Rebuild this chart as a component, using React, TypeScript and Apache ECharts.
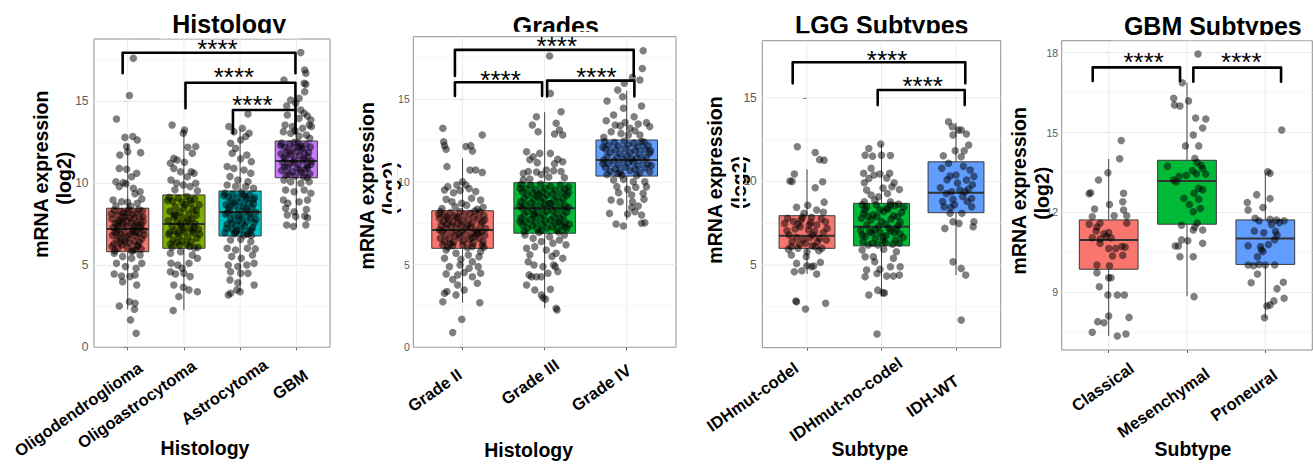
import React, { useEffect, useRef } from 'react';
import * as echarts from 'echarts';

const FONT = '"Liberation Sans", Arial, Helvetica, sans-serif';

// ---------------- categories ----------------
const histologyCategories = ['Oligodendroglioma', 'Oligoastrocytoma', 'Astrocytoma', 'GBM'];
const gradeCategories = ['Grade II', 'Grade III', 'Grade IV'];
const lggCategories = ['IDHmut-codel', 'IDHmut-no-codel', 'IDH-WT'];
const gbmCategories = ['Classical', 'Mesenchymal', 'Proneural'];

// ---------------- box statistics: [lower whisker, Q1, median, Q3, upper whisker] ----------------
const histologyBoxes = [
  [2.3, 5.83, 7.21, 8.48, 12.4],
  [2.27, 6.04, 7.52, 9.29, 13.3],
  [3.4, 6.79, 8.25, 9.53, 13.3],
  [7.35, 10.34, 11.36, 12.58, 15.1],
];
const gradeBoxes = [
  [2.7, 5.99, 7.1, 8.26, 11.43],
  [2.36, 6.9, 8.41, 9.96, 14.22],
  [7.7, 10.36, 11.33, 12.54, 15.52],
];
const lggBoxes = [
  [4.46, 6.0, 6.75, 7.95, 10.72],
  [3.11, 6.15, 7.29, 8.69, 12.23],
  [4.4, 8.13, 9.32, 11.17, 13.51],
];
const gbmBoxes = [
  [7.36, 9.87, 10.97, 11.72, 14.01],
  [8.86, 11.56, 13.18, 13.96, 16.87],
  [8.03, 10.05, 11.02, 11.72, 13.47],
];

// ---------------- jittered samples: [jitter offset (category units), log2 expression] ----------------
const oligodendrogliomaPoints = [
  [0.10,17.62],[0.03,15.35],[-0.20,13.92],[-0.05,12.80],[0.09,12.85],[0.17,12.64],[-0.02,12.24],[0.00,11.93],[-0.14,11.73],[0.23,11.87],
  [-0.15,10.91],[-0.02,10.85],[0.16,10.61],[0.07,10.40],[-0.21,10.10],[-0.08,10.04],[-0.03,9.98],[-0.15,9.80],[0.10,9.70],[0.22,9.49],[0.13,9.36],
  [-0.26,8.98],[-0.11,8.88],[0.00,8.84],[0.17,8.78],[-0.21,8.62],[0.05,8.60],[0.25,9.05],
  [-0.24,8.35],[-0.12,8.28],[0.02,8.40],[0.14,8.22],[0.26,8.31],[-0.18,8.05],[-0.05,7.98],[0.09,8.10],[0.21,7.95],[-0.28,7.82],
  [-0.14,7.75],[0.00,7.70],[0.12,7.85],[0.27,7.66],[-0.22,7.55],[-0.08,7.48],[0.06,7.58],[0.18,7.42],[-0.26,7.30],[-0.16,7.22],
  [-0.02,7.35],[0.10,7.18],[0.23,7.28],[-0.20,7.05],[-0.06,7.00],[0.08,7.08],[0.19,6.95],[0.28,7.12],[-0.27,6.82],[-0.12,6.88],
  [0.01,6.75],[0.15,6.80],[0.25,6.62],[-0.19,6.55],[-0.04,6.60],[0.11,6.48],[0.21,6.40],[-0.25,6.30],[-0.10,6.25],[0.04,6.35],
  [0.17,6.18],[-0.17,6.05],[-0.01,6.10],[0.13,5.95],[0.24,6.00],[-0.23,5.88],[0.07,5.86],[-0.09,7.90],[0.16,7.60],[-0.13,6.40],
  [-0.29,8.15],[-0.17,7.62],[0.03,7.92],[0.20,8.40],[-0.07,8.20],[0.11,7.40],[-0.23,6.98],[0.05,6.90],[0.29,6.85],[-0.14,6.70],
  [0.18,6.20],[-0.28,6.15],[0.09,5.90],[-0.05,6.45],[0.24,7.50],[-0.19,7.40],[0.14,7.02],[-0.10,7.62],[0.00,8.25],[0.27,7.95],
  [-0.24,5.73],[-0.09,5.53],[0.07,5.43],[0.22,5.63],[-0.20,5.12],[-0.04,4.92],[0.15,4.82],[0.25,5.12],[-0.24,4.47],[-0.11,4.35],
  [0.04,4.31],[0.13,4.41],[-0.09,4.00],[0.16,3.80],[-0.15,2.52],[0.03,2.78],[0.13,2.68],[0.12,2.32],[0.05,1.67],[0.15,0.85],
];
const oligoastrocytomaPoints = [
  [-0.21,13.56],[0.01,13.25],[-0.01,13.05],[0.07,12.20],[0.21,12.24],[0.15,11.83],[-0.18,11.52],[-0.12,11.42],[-0.24,11.22],[0.01,11.28],
  [-0.18,10.91],[-0.06,10.71],[0.13,10.71],[0.18,10.61],[0.06,10.40],[-0.23,10.20],[-0.13,10.00],[0.21,10.00],[0.11,9.80],[-0.01,9.90],[-0.16,9.60],[0.24,9.55],
  [-0.26,9.15],[-0.10,9.10],[0.05,9.20],[0.19,9.05],[-0.20,8.90],[-0.03,8.85],[0.12,8.78],[0.27,8.70],[-0.15,8.55],[0.00,8.50],
  [0.16,8.42],[-0.25,8.30],[-0.07,8.25],[0.09,8.15],[0.22,8.05],[-0.18,7.95],[-0.02,7.90],[0.14,7.82],[-0.28,7.72],[-0.12,7.65],
  [0.04,7.60],[0.20,7.55],[-0.21,7.40],[-0.05,7.35],[0.11,7.28],[0.26,7.20],[-0.16,7.10],[0.01,7.05],[0.17,6.98],[-0.27,6.88],
  [-0.09,6.80],[0.07,6.72],[0.23,6.65],[-0.19,6.55],[-0.03,6.50],[0.13,6.42],[-0.24,6.30],[-0.08,6.22],[0.10,6.15],[0.25,6.10],
  [-0.14,8.05],[0.18,7.30],[-0.11,6.95],
  [-0.29,8.95],[0.02,8.70],[0.22,8.35],[-0.17,8.10],[0.08,7.75],[-0.06,7.50],[0.15,7.10],[-0.25,7.00],[0.28,6.90],[-0.12,6.40],
  [0.05,6.28],[0.19,6.05],[-0.21,6.10],[0.11,9.00],[-0.02,7.20],
  [-0.24,5.73],[-0.06,5.83],[0.15,5.63],[0.24,5.43],[-0.23,5.12],[-0.11,5.02],[0.09,5.12],[-0.03,4.82],[-0.24,4.61],[-0.15,4.47],
  [0.00,4.51],[0.11,4.31],[-0.18,3.80],[-0.01,3.66],[0.09,3.50],[0.24,3.39],[-0.09,3.09],[-0.19,2.24],
];
const astrocytomaPoints = [
  [0.14,14.23],[-0.20,13.46],[-0.11,13.15],[0.04,13.35],[0.16,13.05],[0.10,12.85],[-0.17,12.44],[0.01,12.64],[-0.08,12.13],[-0.14,11.83],
  [0.12,11.73],[0.20,11.32],[0.01,11.50],[-0.23,11.02],[-0.11,10.91],[0.07,10.81],[0.19,10.62],[-0.18,10.41],[-0.04,10.20],[0.14,10.10],
  [-0.23,9.90],[-0.08,9.80],[0.10,9.80],[0.24,9.70],
  [-0.27,9.40],[-0.13,9.35],[0.02,9.45],[0.17,9.30],[-0.21,9.15],[-0.05,9.10],[0.11,9.05],[0.26,9.12],[-0.16,8.92],[0.00,8.85],
  [0.15,8.80],[-0.25,8.70],[-0.09,8.65],[0.06,8.58],[0.21,8.52],[-0.19,8.40],[-0.02,8.35],[0.13,8.30],[0.28,8.22],[-0.26,8.12],
  [-0.11,8.05],[0.04,8.00],[0.19,7.92],[-0.17,7.80],[-0.03,7.75],[0.12,7.68],[0.25,7.60],[-0.23,7.50],[-0.07,7.45],[0.08,7.38],
  [0.22,7.30],[-0.14,7.20],[0.01,7.15],[0.16,7.05],[-0.27,6.98],[-0.10,6.92],[0.07,6.85],[0.20,6.82],[-0.20,8.55],[0.09,9.20],
  [-0.06,7.10],[0.24,8.75],
  [-0.29,9.25],[0.05,9.30],[0.23,9.00],[-0.12,8.80],[0.10,8.45],[-0.22,8.20],[0.17,8.10],[-0.02,7.95],[0.28,7.80],[-0.15,7.60],
  [0.04,7.55],[0.20,7.15],[-0.08,7.00],[-0.24,7.25],[0.13,6.90],
  [-0.17,6.54],[0.01,6.59],[0.19,6.44],[-0.23,6.04],[-0.08,5.93],[0.13,6.04],[0.27,6.00],[-0.15,5.53],[0.02,5.43],[0.22,5.63],
  [-0.21,5.02],[-0.04,4.92],[0.12,5.02],[0.25,5.12],[-0.17,4.61],[0.01,4.51],[0.14,4.51],[-0.18,4.11],[-0.04,3.94],[-0.06,3.50],
  [0.25,3.80],[-0.21,3.19],[-0.17,3.29],[0.00,3.39],
];
const gbmHistologyPoints = [
  [0.08,17.97],[0.15,16.91],[0.17,16.71],[-0.22,16.30],[0.14,16.10],[0.17,16.04],[0.15,15.59],[0.05,15.18],[-0.10,15.08],[-0.17,14.72],
  [-0.01,14.88],[0.08,14.47],[-0.16,14.17],[0.05,13.96],[0.14,14.27],[0.26,13.86],[0.20,14.10],[-0.20,13.56],[-0.07,13.46],[0.11,13.35],
  [0.23,13.56],[-0.23,13.15],[-0.10,13.05],[0.05,12.89],[0.18,12.95],[0.27,13.46],[-0.02,13.20],[0.24,12.75],
  [-0.26,12.45],[-0.12,12.40],[0.03,12.48],[0.17,12.35],[-0.20,12.20],[-0.05,12.15],[0.10,12.10],[0.25,12.22],[-0.16,11.98],[0.00,11.92],
  [0.14,11.88],[-0.27,11.80],[-0.09,11.72],[0.06,11.68],[0.21,11.62],[-0.19,11.50],[-0.03,11.45],[0.12,11.40],[0.27,11.35],[-0.24,11.25],
  [-0.11,11.20],[0.04,11.15],[0.19,11.08],[-0.15,10.98],[0.01,10.92],[0.16,10.85],[-0.26,10.78],[-0.07,10.70],[0.09,10.65],[0.24,10.58],
  [-0.18,10.50],[-0.02,10.45],[0.13,10.40],[-0.22,11.60],[0.08,12.28],[0.20,10.95],
  [-0.28,12.30],[0.05,12.20],[0.22,11.90],[-0.12,11.85],[0.15,11.50],[-0.05,11.30],[0.26,11.15],[-0.21,11.00],[0.07,10.80],[-0.13,10.55],
  [0.19,10.35],[-0.03,12.50],
  [-0.22,10.20],[-0.10,10.10],[0.08,10.00],[0.23,10.10],[-0.19,9.59],[-0.04,9.49],[0.14,9.59],[0.26,9.39],[-0.23,8.98],[-0.15,8.78],
  [0.05,8.88],[0.20,8.98],[-0.19,8.48],[-0.04,8.27],[0.18,8.40],[-0.16,8.07],[-0.01,7.97],[0.15,8.01],[0.20,7.90],[-0.17,7.46],
  [-0.05,7.36],[0.17,7.46],
];
const grade2Points = [
  [-0.24,13.25],[0.24,12.84],[-0.23,12.44],[-0.22,12.20],[-0.20,11.98],[0.04,12.14],[0.10,12.20],[0.12,11.88],[-0.19,10.93],[0.16,10.73],
  [0.24,10.58],[0.09,10.73],[0.00,10.02],[0.04,9.82],[-0.07,9.82],[-0.18,9.72],[-0.22,9.52],[-0.11,9.35],[-0.03,9.48],[0.16,9.42],
  [0.08,9.60],[-0.20,8.95],[-0.13,8.81],[0.11,9.01],[0.22,8.91],[-0.09,8.51],[-0.01,8.71],[0.25,8.47],[0.05,8.60],[-0.25,8.40],[0.18,8.35],
  [-0.27,8.20],[-0.15,8.15],[-0.03,8.22],[0.09,8.10],[0.21,8.18],[-0.22,8.00],[-0.10,7.95],[0.02,8.02],[0.14,7.90],[0.26,7.98],
  [-0.28,7.80],[-0.17,7.75],[-0.05,7.82],[0.07,7.70],[0.19,7.78],[-0.23,7.60],[-0.12,7.55],[0.00,7.62],[0.12,7.50],[0.24,7.58],
  [-0.26,7.40],[-0.14,7.35],[-0.02,7.42],[0.10,7.30],[0.22,7.38],[-0.20,7.20],[-0.08,7.15],[0.04,7.22],[0.16,7.10],[0.28,7.18],
  [-0.25,7.00],[-0.13,6.95],[-0.01,7.02],[0.11,6.90],[0.23,6.98],[-0.21,6.80],[-0.09,6.75],[0.03,6.82],[0.15,6.70],[0.27,6.78],
  [-0.27,6.60],[-0.16,6.55],[-0.04,6.62],[0.08,6.50],[0.20,6.58],[-0.22,6.40],[-0.11,6.35],[0.01,6.42],[0.13,6.30],[0.25,6.38],
  [-0.24,6.20],[-0.12,6.15],[0.00,6.22],[0.12,6.10],[0.24,6.18],[-0.18,6.05],[0.06,6.02],[-0.06,7.48],[0.18,6.88],[-0.19,7.88],
  [-0.29,8.05],[0.15,8.25],[-0.07,7.88],[0.27,7.70],[-0.19,7.45],[0.06,7.35],[-0.28,7.10],[0.19,6.95],[-0.04,6.85],[0.11,6.62],
  [-0.15,6.25],[0.26,6.05],
  [-0.20,5.89],[-0.08,5.69],[0.07,5.58],[0.22,5.79],[-0.22,5.38],[-0.02,5.32],[0.12,5.18],[0.20,5.48],[-0.16,4.88],[-0.03,4.98],
  [0.08,4.78],[0.19,4.88],[-0.20,4.44],[-0.06,4.38],[0.02,4.52],[0.12,4.27],[0.22,4.48],[-0.12,4.10],[0.18,3.87],[-0.06,3.77],
  [0.02,3.47],[-0.19,3.37],[-0.22,3.27],[-0.08,3.17],[-0.24,2.76],[0.21,2.70],[-0.01,1.69],[-0.12,0.89],
];
const grade3Points = [
  [0.06,17.62],[0.07,15.36],[-0.10,13.95],[-0.15,13.45],[-0.08,13.04],[0.20,14.25],[0.14,13.55],[0.18,13.15],[0.12,12.90],[0.22,12.85],
  [-0.22,11.83],[-0.14,11.53],[-0.06,11.73],[-0.18,11.35],[-0.09,11.17],[0.07,11.73],[0.16,11.37],[0.22,11.23],[0.12,11.10],[-0.26,10.52],
  [-0.20,10.63],[-0.10,10.60],[0.02,10.73],[0.11,10.68],[0.20,10.63],[-0.26,10.12],[-0.18,10.18],[0.05,10.30],[0.24,10.25],[-0.04,10.45],
  [-0.29,9.85],[-0.17,9.80],[-0.05,9.88],[0.07,9.75],[0.19,9.82],[0.29,9.70],[-0.23,9.60],[-0.11,9.55],[0.01,9.62],[0.13,9.50],
  [0.25,9.58],[-0.27,9.40],[-0.15,9.35],[-0.03,9.42],[0.09,9.30],[0.21,9.38],[-0.21,9.20],[-0.09,9.15],[0.03,9.22],[0.15,9.10],
  [0.27,9.18],[-0.25,9.00],[-0.13,8.95],[-0.01,9.02],[0.11,8.90],[0.23,8.98],[-0.29,8.80],[-0.17,8.75],[-0.05,8.82],[0.07,8.70],
  [0.19,8.78],[-0.23,8.60],[-0.11,8.55],[0.01,8.62],[0.13,8.50],[0.25,8.58],[-0.27,8.40],[-0.15,8.35],[-0.03,8.42],[0.09,8.30],
  [0.21,8.38],[-0.21,8.20],[-0.09,8.15],[0.03,8.22],[0.15,8.10],[0.27,8.18],[-0.25,8.00],[-0.13,7.95],[-0.01,8.02],[0.11,7.90],
  [0.23,7.98],[-0.29,7.80],[-0.17,7.75],[-0.05,7.82],[0.07,7.70],[0.19,7.78],[-0.23,7.60],[-0.11,7.55],[0.01,7.62],[0.13,7.50],
  [0.25,7.58],[-0.27,7.40],[-0.15,7.35],[-0.03,7.42],[0.09,7.30],[0.21,7.38],[-0.21,7.20],[-0.09,7.15],[0.03,7.22],[0.15,7.10],
  [0.27,7.18],[-0.25,7.00],[-0.07,6.95],[0.17,6.98],
  [-0.30,9.60],[0.29,9.35],[-0.30,8.55],[0.29,8.45],[-0.30,7.60],[0.30,7.45],[-0.07,9.25],[0.05,8.70],[-0.13,8.05],[0.17,7.60],
  [-0.04,7.05],[0.24,7.25],
  [-0.24,6.79],[-0.14,6.59],[0.06,6.69],[0.18,6.49],[0.24,6.79],[-0.04,6.40],[0.10,6.30],[-0.22,5.99],[-0.12,6.09],[0.02,5.89],
  [0.14,5.69],[0.22,5.38],[0.26,6.20],[-0.20,5.18],[-0.13,4.98],[-0.02,4.88],[0.11,4.98],[0.13,4.88],[-0.19,4.38],[-0.10,4.27],
  [0.04,4.48],[0.16,4.58],[-0.04,4.27],[-0.16,4.27],[0.09,5.50],[-0.22,3.77],[-0.12,3.47],[0.07,3.51],[-0.04,3.17],[-0.02,3.00],
  [0.14,2.36],[0.15,2.26],[0.01,2.90],[-0.18,5.60],
];
const grade4Points = [
  [0.20,17.94],[0.19,16.87],[0.07,16.33],[0.16,16.17],[-0.03,15.97],[-0.11,15.56],[-0.05,15.16],[-0.24,14.90],[-0.04,14.46],[0.09,13.95],
  [0.18,14.60],[-0.16,14.05],[-0.25,13.71],[-0.14,13.45],[-0.08,13.40],[-0.02,13.60],[0.04,13.25],[0.14,13.51],[0.24,13.59],[0.28,13.35],
  [-0.19,13.04],[-0.07,12.94],[0.02,12.84],[0.16,12.84],[0.10,13.10],[-0.28,12.70],
  [-0.27,12.45],[-0.15,12.40],[-0.03,12.48],[0.09,12.35],[0.21,12.42],[-0.22,12.22],[-0.10,12.18],[0.02,12.25],[0.14,12.12],[0.26,12.20],
  [-0.26,12.00],[-0.14,11.95],[-0.02,12.02],[0.10,11.90],[0.22,11.98],[-0.20,11.78],[-0.08,11.72],[0.04,11.80],[0.16,11.68],[0.28,11.75],
  [-0.24,11.55],[-0.12,11.50],[0.00,11.58],[0.12,11.45],[0.24,11.52],[-0.28,11.32],[-0.16,11.28],[-0.04,11.35],[0.08,11.22],[0.20,11.30],
  [-0.22,11.10],[-0.10,11.05],[0.02,11.12],[0.14,11.00],[0.26,11.08],[-0.26,10.88],[-0.14,10.82],[-0.02,10.90],[0.10,10.78],[0.22,10.85],
  [-0.20,10.65],[-0.08,10.60],[0.04,10.68],[0.16,10.55],[0.28,10.62],[-0.24,10.45],[-0.06,10.42],[0.12,10.40],
  [-0.29,12.10],[0.29,11.90],[-0.29,11.10],[0.30,11.00],[0.06,11.40],[-0.11,10.50],[0.18,12.45],
  [-0.16,10.12],[-0.04,10.16],[0.08,10.02],[0.22,10.02],[-0.12,9.72],[0.01,9.56],[0.11,9.68],[0.24,9.72],[-0.10,9.35],[0.06,9.21],
  [0.20,9.31],[-0.19,8.91],[-0.08,8.81],[0.07,8.81],[0.21,8.95],[0.14,8.55],[0.06,8.45],[-0.21,8.10],[0.01,8.06],[0.10,8.20],
  [0.18,8.00],[-0.13,7.46],[-0.04,7.34],[0.18,7.50],[0.22,7.54],
];
const codelPoints = [
  [-0.13,12.07],[0.11,11.73],[0.23,11.27],[0.17,11.30],[-0.17,10.44],[-0.23,10.02],[-0.20,10.00],[0.11,9.62],[0.21,9.98],[0.23,8.76],
  [0.01,8.57],[-0.14,8.45],[0.13,8.29],[0.22,8.15],[-0.04,8.09],[0.06,7.85],[-0.30,7.49],[-0.18,7.60],[-0.09,7.29],[0.02,7.09],
  [0.13,7.39],[0.25,7.59],[-0.24,6.79],[-0.14,6.65],[-0.05,6.53],[0.08,6.80],[0.17,6.59],[0.26,6.50],[-0.21,6.10],[-0.12,6.00],
  [0.00,5.80],[0.11,6.10],[0.20,6.00],[-0.21,5.60],[-0.01,5.50],[0.18,5.16],[-0.14,5.10],[-0.17,4.60],[-0.07,4.66],[0.00,4.96],
  [0.06,4.90],[0.09,4.94],[0.13,4.46],[-0.15,2.85],[-0.14,2.81],[-0.02,2.37],[0.25,2.71],
  [-0.26,7.80],[-0.08,7.70],[0.05,7.55],[0.19,7.75],[-0.16,7.15],[0.10,7.00],[-0.27,7.05],[0.22,6.95],[-0.02,6.30],[0.14,6.40],
  [-0.10,6.25],[0.04,6.65],[-0.20,6.40],[0.27,7.20],[-0.06,7.85],[0.07,6.15],[0.16,5.85],[-0.25,5.95],[0.03,7.40],[-0.12,7.45],
];
const noCodelPoints = [
  [-0.01,12.23],[-0.17,11.97],[-0.12,11.51],[-0.22,11.57],[0.00,11.57],[0.12,11.55],[-0.14,10.78],[-0.24,10.48],[-0.17,10.18],[-0.10,10.38],
  [-0.02,10.44],[0.11,10.48],[0.07,10.20],[-0.23,9.92],[0.17,9.92],[0.14,9.68],[-0.20,9.48],[-0.14,9.18],[-0.04,9.08],[0.08,9.28],
  [0.24,9.52],[-0.23,8.78],[-0.09,8.88],[0.12,8.78],[0.23,8.65],[0.02,9.60],
  [-0.20,8.50],[-0.07,8.60],[0.07,8.40],[0.18,8.55],[0.30,8.45],[-0.24,8.10],[-0.11,8.00],[0.03,8.20],[0.16,7.95],[0.27,8.15],
  [-0.27,7.80],[-0.14,7.70],[0.00,7.60],[0.13,7.75],[0.25,7.55],[-0.20,7.40],[-0.04,7.30],[0.10,7.20],[0.22,7.35],[-0.28,7.10],
  [-0.16,7.00],[-0.02,6.95],[0.12,7.05],[0.25,6.85],[-0.22,6.70],[-0.08,6.60],[0.06,6.75],[0.19,6.50],[0.29,6.65],[-0.25,6.40],
  [-0.12,6.30],[0.02,6.45],[0.15,6.25],[-0.18,6.20],[0.09,8.35],[-0.06,7.90],[0.20,7.15],[-0.13,6.95],[0.05,6.35],[-0.22,8.30],
  [-0.26,8.60],[0.12,8.60],[-0.02,8.30],[-0.18,7.90],[0.22,7.90],[0.06,7.45],[-0.09,7.10],[0.17,6.95],[-0.26,6.80],[0.02,6.70],
  [0.24,6.30],[-0.05,6.20],
  [-0.22,5.50],[-0.11,5.50],[0.16,5.40],[0.25,4.90],[0.12,4.90],[-0.02,4.75],[-0.20,4.70],[-0.22,4.30],[-0.06,4.50],[0.07,4.34],
  [0.16,4.34],[0.24,4.40],[-0.17,3.21],[-0.05,3.50],[0.02,3.35],[0.04,3.33],[-0.06,0.88],[-0.26,5.90],[0.03,5.95],[0.20,5.80],[-0.09,5.20],
];
const idhWtPoints = [
  [-0.10,13.57],[-0.05,13.27],[0.07,13.07],[0.03,13.07],[-0.04,12.77],[0.14,12.83],[0.17,12.17],[0.11,11.83],[-0.01,11.83],[-0.17,11.53],
  [0.07,11.47],[-0.10,11.08],[-0.19,10.78],[0.19,10.68],[0.00,10.38],[-0.08,10.32],[0.14,10.08],[-0.21,9.62],[0.05,9.48],[0.17,9.54],
  [-0.06,9.38],[0.12,9.38],[-0.13,9.28],[0.21,8.98],[-0.04,8.92],[-0.16,8.49],[-0.07,8.45],[0.21,8.49],[-0.08,8.09],[0.08,8.09],
  [-0.15,7.19],[-0.04,7.59],[0.04,7.49],[0.24,7.59],[0.23,7.29],[-0.04,5.20],[0.07,4.80],[0.13,4.40],[0.07,1.71],
  [0.10,10.90],[-0.12,10.10],[0.02,9.90],[0.22,9.80],[-0.02,8.60],[0.15,8.80],[-0.18,8.80],[0.09,9.10],[0.24,10.30],
];
const classicalPoints = [
  [0.16,14.70],[0.14,14.02],[-0.01,13.49],[-0.13,13.22],[-0.23,12.74],[-0.25,12.70],[0.19,12.72],[-0.18,12.13],[0.18,12.40],[0.19,12.09],
  [0.01,12.30],[-0.21,11.84],[0.07,11.88],[0.23,11.88],[-0.25,11.56],[-0.11,11.60],[-0.15,11.45],[0.23,11.60],[-0.03,11.10],[-0.06,11.20],
  [-0.16,11.30],[0.00,11.25],[-0.11,11.00],[0.03,11.05],[-0.21,11.05],[-0.11,10.84],[0.00,10.65],[0.09,10.65],[0.17,10.72],[0.21,10.70],
  [0.05,10.37],[0.18,10.39],[-0.15,10.03],[0.01,10.00],[-0.15,9.74],[0.00,9.55],[0.03,9.55],[-0.12,9.21],[-0.01,8.90],[0.11,8.90],
  [0.20,8.90],[0.00,8.11],[0.26,8.06],[-0.14,7.90],[-0.06,7.86],[-0.21,7.50],[0.11,7.36],[0.22,7.44],
];
const mesenchymalPoints = [
  [0.14,17.95],[-0.06,16.87],[-0.17,16.29],[-0.16,16.04],[-0.09,16.00],[0.02,16.19],[0.11,15.55],[0.24,15.51],[0.20,15.17],[0.08,14.91],
  [-0.02,14.50],[0.15,14.50],[0.10,14.03],[0.13,13.88],[0.18,13.76],[-0.25,13.74],[0.07,13.57],[0.12,13.45],[0.24,13.44],[0.20,13.65],
  [-0.17,13.22],[-0.10,13.35],[-0.01,13.40],[0.15,12.91],[0.09,12.72],[0.20,12.85],[-0.04,12.53],[0.15,12.50],[0.17,12.15],[0.08,12.03],
  [-0.07,11.52],[0.13,11.60],[0.08,11.34],[0.20,11.34],[0.10,11.45],[-0.07,10.97],[0.01,10.94],[-0.15,10.74],[-0.11,10.74],[0.20,10.84],
  [-0.09,10.34],[0.08,10.34],[0.09,8.84],[-0.14,13.15],[0.03,12.30],
];
const proneuralPoints = [
  [0.21,15.10],[0.03,13.53],[0.06,13.47],[-0.11,12.67],[-0.23,12.37],[-0.22,12.09],[0.06,12.52],[-0.03,12.19],[-0.13,11.78],[-0.08,11.69],
  [0.06,11.74],[0.14,11.72],[0.24,11.69],[0.18,11.62],[-0.02,11.24],[0.13,11.29],[0.15,11.15],[0.12,10.98],[-0.22,10.75],[-0.06,10.72],
  [-0.03,10.53],[-0.10,10.34],[-0.22,10.03],[-0.15,10.00],[-0.08,10.05],[0.00,10.03],[0.12,10.03],[-0.10,9.69],[-0.18,9.36],[0.23,9.38],
  [0.15,9.14],[0.24,8.78],[0.11,8.68],[0.06,8.53],[0.02,8.49],[-0.01,8.05],[-0.05,10.60],[0.04,10.80],[-0.14,11.30],[0.08,11.55],
];

// ---------------- significance brackets: [x start, x end, y top, left leg end, right leg end, label x, label y] ----------------
const histologyBrackets = [
  [-0.09, 2.985, 17.96, 16.71, 16.71, 1.597, 18.22],
  [1.028, 2.985, 16.13, 14.57, 14.57, 1.891, 16.49],
  [1.873, 2.985, 14.47, 13.05, 13.05, 2.22, 14.77],
];
const gradeBrackets = [
  [-0.093, 2.085, 17.99, 16.41, 16.41, 1.148, 18.2],
  [-0.093, 0.969, 16.03, 15.2, 15.2, 0.463, 16.18],
  [1.03, 2.093, 16.13, 15.17, 15.17, 1.631, 16.33],
];
const lggBrackets = [
  [-0.192, 2.125, 17.12, 15.86, 15.86, 1.074, 17.24],
  [0.949, 2.117, 15.46, 14.56, 14.56, 1.553, 15.69],
];
const gbmBrackets = [
  [-0.204, 0.911, 17.45, 16.94, 16.94, 0.447, 17.64],
  [1.081, 2.201, 17.44, 16.91, 16.91, 1.694, 17.64],
];
const significanceLabel = '****';

// ---------------- y axis ticks and limits ----------------
const histologyYTicks = [0, 5, 10, 15];
const gradeYTicks = [0, 5, 10, 15];
const lggYTicks = [5, 10, 15];
const gbmYTicks = [9, 12, 15, 18];
const histologyYMinor = [2.5, 7.5, 12.5, 17.5];
const gradeYMinor = [2.5, 7.5, 12.5, 17.5];
const lggYMinor = [2.5, 7.5, 12.5, 17.5];
const gbmYMinor = [7.5, 10.5, 13.5, 16.5];
const histologyYRange = [0, 18.8];
const gradeYRange = [0, 18.79];
const lggYRange = [0.06, 18.41];
const gbmYRange = [6.836, 18.45];

// ---------------- colours ----------------
const fourGroupColors = ['#F8766D', '#7CAE00', '#00BFC4', '#C77CFF'];
const threeGroupColors = ['#F8766D', '#00BA38', '#619CFF'];

// ---------------- layout (pixels) ----------------
const panels = [
  {
    title: 'Histology', xTitle: 'Histology', cats: histologyCategories, boxes: histologyBoxes,
    points: [oligodendrogliomaPoints, oligoastrocytomaPoints, astrocytomaPoints, gbmHistologyPoints],
    brackets: histologyBrackets, yTicks: histologyYTicks, yMinor: histologyYMinor, yRange: histologyYRange, colors: fourGroupColors,
    grid: { left: 94, top: 39, width: 236, height: 308.3 }, tickFont: 12, labelMargin: 5.5, tickLen: 4,
    titlePos: [229.2, 24.3], titleCut: [160, 33.3, 140, 5.2],
    yTitlePos: [[40.7, 174.2], [63.8, 178.3]], yTitleCut: null,
    xTitlePos: [205, 447.5],
    xLabelPos: [[78.3, 409.2], [136.7, 404.2], [224.2, 391.7], [290, 384.2]],
  },
  {
    title: 'Grades', xTitle: 'Histology', cats: gradeCategories, boxes: gradeBoxes,
    points: [grade2Points, grade3Points, grade4Points],
    brackets: gradeBrackets, yTicks: gradeYTicks, yMinor: gradeYMinor, yRange: gradeYRange, colors: threeGroupColors,
    grid: { left: 413.3, top: 36.7, width: 262.7, height: 310.6 }, tickFont: 10.5, labelMargin: 3.5, tickLen: 3,
    titlePos: [555.8, 26], titleCut: [500, 31.7, 112, 4.2],
    yTitlePos: [[366.5, 185.8], [390, 188.3]], yTitleCut: [391.7, 150, 5.5, 80],
    xTitlePos: [528.7, 450.1],
    xLabelPos: [[434.7, 390], [530, 381.7], [601.2, 387.5]],
  },
  {
    title: 'LGG Subtypes', xTitle: 'Subtype', cats: lggCategories, boxes: lggBoxes,
    points: [codelPoints, noCodelPoints, idhWtPoints],
    brackets: lggBrackets, yTicks: lggYTicks, yMinor: lggYMinor, yRange: lggYRange, colors: threeGroupColors,
    grid: { left: 762.3, top: 40.7, width: 238.4, height: 307 }, tickFont: 12, labelMargin: 5.5, tickLen: 4,
    titlePos: [881.7, 25.3], titleCut: [785, 33.3, 195, 6.7],
    yTitlePos: [[714.5, 180], [738.5, 182.5]], yTitleCut: [739.4, 145, 3.6, 80],
    xTitlePos: [870, 448.5],
    xLabelPos: [[752.5, 396.7], [845.8, 399.2], [932.5, 395.8]],
  },
  {
    title: 'GBM Subtypes', xTitle: 'Subtype', cats: gbmCategories, boxes: gbmBoxes,
    points: [classicalPoints, mesenchymalPoints, proneuralPoints],
    brackets: gbmBrackets, yTicks: gbmYTicks, yMinor: gbmYMinor, yRange: gbmYRange, colors: threeGroupColors,
    grid: { left: 1061.7, top: 40.7, width: 250.6, height: 309.3 }, tickFont: 10.5, labelMargin: 3.5, tickLen: 3,
    titlePos: [1212.8, 26], titleCut: [1112, 35, 200, 5.2],
    yTitlePos: [[1019.4, 190.8], [1041.6, 193.3]], yTitleCut: null,
    xTitlePos: [1193, 448.5],
    xLabelPos: [[1102.5, 386.7], [1163.3, 402.5], [1243.8, 395]],
  },
];

function makeBoxRender(colors: string[]) {
  return (params: any, api: any) => {
    const i = api.value(0);
    const lo = api.value(1), q1 = api.value(2), md = api.value(3), q3 = api.value(4), hi = api.value(5);
    const hw = 0.375;
    const tl = api.coord([i - hw, q3]);
    const br = api.coord([i + hw, q1]);
    const top = api.coord([i, hi]);
    const bot = api.coord([i, lo]);
    const c3 = api.coord([i, q3]);
    const c1 = api.coord([i, q1]);
    const ml = api.coord([i - hw, md]);
    const mr = api.coord([i + hw, md]);
    return {
      type: 'group',
      children: [
        { type: 'line', shape: { x1: top[0], y1: top[1], x2: c3[0], y2: c3[1] }, style: { stroke: '#444', lineWidth: 1 } },
        { type: 'line', shape: { x1: c1[0], y1: c1[1], x2: bot[0], y2: bot[1] }, style: { stroke: '#444', lineWidth: 1 } },
        { type: 'rect', shape: { x: tl[0], y: tl[1], width: br[0] - tl[0], height: br[1] - tl[1] }, style: { fill: colors[params.dataIndex], stroke: '#3a3a3a', lineWidth: 1 } },
        { type: 'line', shape: { x1: ml[0], y1: ml[1], x2: mr[0], y2: mr[1] }, style: { stroke: '#333', lineWidth: 2 } },
      ],
    };
  };
}

function bracketRender(params: any, api: any) {
  const x1 = api.value(0), x2 = api.value(1), yt = api.value(2), yl = api.value(3), yr = api.value(4);
  const lx = api.value(5), ly = api.value(6);
  const a = api.coord([x1, yl]);
  const b = api.coord([x1, yt]);
  const c = api.coord([x2, yt]);
  const d = api.coord([x2, yr]);
  const l = api.coord([lx, ly]);
  return {
    type: 'group',
    children: [
      { type: 'polyline', shape: { points: [a, b, c, d] }, style: { stroke: '#000', lineWidth: 2.6, fill: 'none', lineJoin: 'round', lineCap: 'round' } },
      { type: 'text', x: l[0], y: l[1], style: { text: significanceLabel, font: `26px ${FONT}`, lineHeight: 14, fill: '#000', align: 'center', verticalAlign: 'middle' } },
    ],
  };
}

function gridLineRender(params: any, api: any) {
  const v = api.value(0);
  const minor = api.value(1);
  const vert = api.value(2);
  const cs = params.coordSys;
  const stroke = minor ? '#f4f4f4' : '#ebebeb';
  const lw = minor ? 0.8 : 1;
  if (vert) {
    const p = api.coord([v, 10]);
    return { type: 'line', shape: { x1: p[0], y1: cs.y, x2: p[0], y2: cs.y + cs.height }, style: { stroke, lineWidth: lw } };
  }
  const p = api.coord([0, v]);
  return { type: 'line', shape: { x1: cs.x, y1: p[1], x2: cs.x + cs.width, y2: p[1] }, style: { stroke, lineWidth: lw } };
}

function buildOption() {
  const grid: any[] = [];
  const xAxis: any[] = [];
  const yAxis: any[] = [];
  const series: any[] = [];
  const graphic: any[] = [];

  panels.forEach((p, k) => {
    const n = p.cats.length;
    const catIdx = p.cats.map((_, i) => i);
    grid.push({
      left: p.grid.left, top: p.grid.top, width: p.grid.width, height: p.grid.height,
      show: true, borderColor: '#8f8f8f', borderWidth: 1, backgroundColor: '#fff',
      containLabel: false, outerBoundsMode: 'none',
    });
    xAxis.push({
      type: 'value', gridIndex: k, min: -0.6, max: n - 0.4,
      axisLine: { show: false }, splitLine: { show: false }, axisLabel: { show: false },
      axisTick: { show: true, customValues: catIdx, length: 3, lineStyle: { color: '#666', width: 1 } },
    });
    yAxis.push({
      type: 'value', gridIndex: k, min: p.yRange[0], max: p.yRange[1],
      axisLine: { show: false }, splitLine: { show: false },
      axisTick: { show: true, customValues: p.yTicks, length: p.tickLen, lineStyle: { color: '#666', width: 1 } },
      axisLabel: { show: true, customValues: p.yTicks, fontSize: p.tickFont, color: '#5a5a5a', margin: p.labelMargin, fontFamily: FONT },
    });

    const gridLines: number[][] = [];
    p.yMinor.forEach((v) => gridLines.push([v, 1, 0]));
    p.yTicks.forEach((v) => gridLines.push([v, 0, 0]));
    catIdx.forEach((v) => gridLines.push([v, 0, 1]));
    series.push({
      type: 'custom', xAxisIndex: k, yAxisIndex: k, z: 1, silent: true,
      renderItem: gridLineRender, data: gridLines, clip: true,
    });
    series.push({
      type: 'custom', xAxisIndex: k, yAxisIndex: k, z: 2, silent: true,
      renderItem: makeBoxRender(p.colors),
      data: p.boxes.map((b, i) => [i, ...b]),
    });
    const pts: number[][] = [];
    p.points.forEach((grp, i) => grp.forEach(([dx, y]) => pts.push([i + dx, y])));
    series.push({
      type: 'scatter', xAxisIndex: k, yAxisIndex: k, z: 3, silent: true,
      symbol: 'circle', symbolSize: 7.5, data: pts,
      itemStyle: { color: '#000', opacity: 0.5 },
    });
    series.push({
      type: 'custom', xAxisIndex: k, yAxisIndex: k, z: 4, silent: true,
      renderItem: bracketRender, data: p.brackets,
    });

    // titles
    graphic.push({
      type: 'text', x: p.titlePos[0], y: p.titlePos[1], z: 50,
      style: { text: p.title, font: `bold 25px ${FONT}`, lineHeight: 20, fill: '#000', align: 'center', verticalAlign: 'middle' },
    });
    graphic.push({
      type: 'rect', z: 60, shape: { x: p.titleCut[0], y: p.titleCut[1], width: p.titleCut[2], height: p.titleCut[3] },
      style: { fill: '#fff' },
    });
    // y titles
    graphic.push({
      type: 'text', x: p.yTitlePos[0][0], y: p.yTitlePos[0][1], rotation: Math.PI / 2, z: 50,
      style: { text: 'mRNA expression', font: `bold 19.5px ${FONT}`, lineHeight: 20, fill: '#000', align: 'center', verticalAlign: 'middle' },
    });
    graphic.push({
      type: 'text', x: p.yTitlePos[1][0], y: p.yTitlePos[1][1], rotation: Math.PI / 2, z: 50,
      style: { text: '(log2)', font: `bold 19.5px ${FONT}`, lineHeight: 20, fill: '#000', align: 'center', verticalAlign: 'middle' },
    });
    if (p.yTitleCut) {
      graphic.push({
        type: 'rect', z: 60, shape: { x: p.yTitleCut[0], y: p.yTitleCut[1], width: p.yTitleCut[2], height: p.yTitleCut[3] },
        style: { fill: '#fff' },
      });
    }
    // x title
    graphic.push({
      type: 'text', x: p.xTitlePos[0], y: p.xTitlePos[1], z: 50,
      style: { text: p.xTitle, font: `bold 19.5px ${FONT}`, fill: '#000', align: 'center', verticalAlign: 'middle' },
    });
    // category labels
    p.cats.forEach((c, i) => {
      graphic.push({
        type: 'text', x: p.xLabelPos[i][0], y: p.xLabelPos[i][1], rotation: (35 * Math.PI) / 180, z: 50,
        style: { text: c, font: `bold 16.5px ${FONT}`, fill: '#000', align: 'center', verticalAlign: 'middle' },
      });
    });
  });

  return {
    animation: false,
    backgroundColor: '#fff',
    textStyle: { fontFamily: FONT },
    grid, xAxis, yAxis, series, graphic,
  };
}

export default function App() {
  const ref = useRef<HTMLDivElement>(null);
  useEffect(() => {
    if (!ref.current) return;
    const chart = echarts.init(ref.current, null, { renderer: 'svg' });
    chart.setOption(buildOption() as any);
    return () => chart.dispose();
  }, []);
  return (
    <div
      ref={ref}
      style={{ position: 'absolute', left: 0, top: 0, width: 1313, height: 464, background: '#fff' }}
    />
  );
}
